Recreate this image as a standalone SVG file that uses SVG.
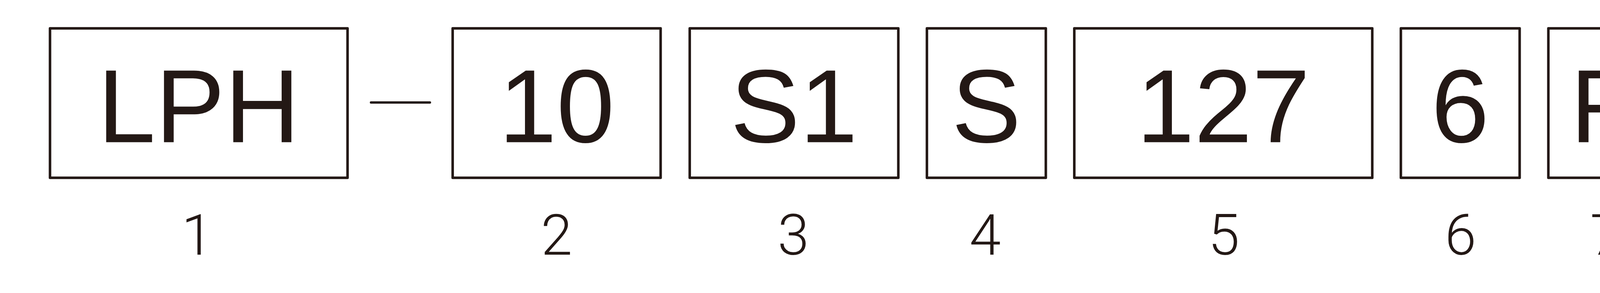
<svg xmlns="http://www.w3.org/2000/svg" width="7761" height="749" viewBox="0 0 7761 749">
<style>
.box{fill:none;stroke:#231815;stroke-width:6.5;stroke-linejoin:round}
.code{font-family:"Liberation Sans",Arial,sans-serif;font-size:266px;fill:#231815;text-anchor:middle}
.num{font-family:Roboto,"DejaVu Sans",sans-serif;font-weight:300;font-size:145px;fill:#231815;text-anchor:middle}
.dash{stroke:#231815;stroke-width:6;stroke-linecap:round;fill:none}
</style>
<rect width="7761" height="749" fill="#ffffff"/>
<g id="connectors">
<line class="dash" x1="949.7" y1="262" x2="1100.6" y2="262"/>
</g>
<g id="node1">
<rect class="box" x="128" y="72.6" width="761.7" height="381.8"/>
<text class="code" x="508.8" y="363.5">LPH</text>
<text class="num" x="505" y="651">1</text>
</g>
<g id="node2">
<rect class="box" x="1158.8" y="72.6" width="532.4" height="381.8"/>
<text class="code" x="1425" y="363.5">10</text>
<text class="num" x="1425" y="651">2</text>
</g>
<g id="node3">
<rect class="box" x="1765.7" y="72.6" width="534" height="381.8"/>
<text class="code" x="2032.7" y="363.5">S1</text>
<text class="num" x="2031" y="651">3</text>
</g>
<g id="node4">
<rect class="box" x="2372.9" y="72.6" width="304.4" height="381.8"/>
<text class="code" x="2525" y="363.5">S</text>
<text class="num" x="2522" y="651">4</text>
</g>
<g id="node5">
<rect class="box" x="2750.2" y="72.6" width="762.8" height="381.8"/>
<text class="code" x="3131.5" y="363.5">127</text>
<text class="num" x="3133" y="651">5</text>
</g>
<g id="node6">
<rect class="box" x="3586.2" y="72.6" width="304.1" height="381.8"/>
<text class="code" x="3738" y="363.5">6</text>
<text class="num" x="3739" y="651">6</text>
</g>
<g id="node7">
<rect class="box" x="3963.8" y="72.6" width="305" height="381.8"/>
<text class="code" x="4116" y="363.5">R</text>
<text class="num" x="4111" y="651">7</text>
</g>
</svg>
